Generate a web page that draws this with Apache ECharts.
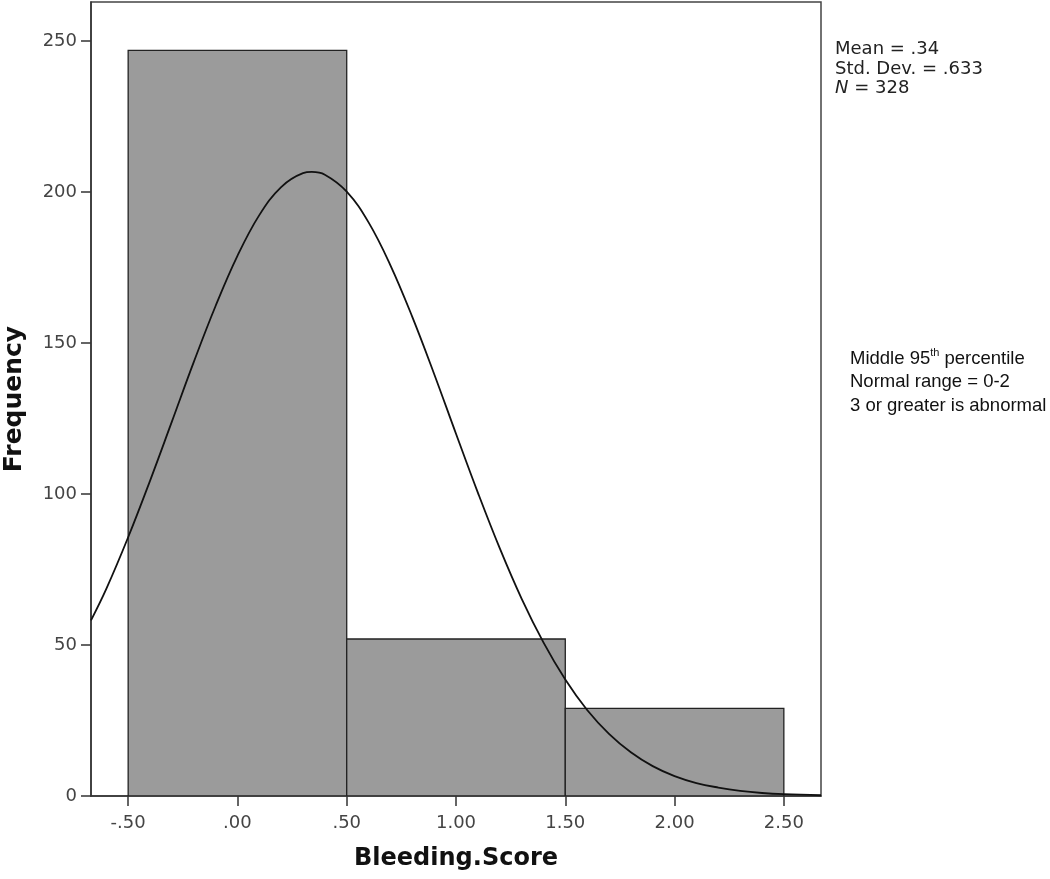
<!DOCTYPE html>
<html>
<head>
<meta charset="utf-8">
<script src="https://cdn.jsdelivr.net/npm/echarts@6/dist/echarts.min.js"></script>
<style>html,body{margin:0;padding:0;background:#fff}#c{width:1050px;height:879px}</style>
</head>
<body>
<div id="c"></div>
<script>
// Histogram bins: [start, end]
var binStarts = [-0.5, 0.5, 1.5];
var binEnds = [0.5, 1.5, 2.5];
var binCounts = [247, 52, 29];
// Normal curve points
var curveX = [-0.67, -0.6, -0.5, -0.4, -0.3, -0.2, -0.1, 0.0, 0.1, 0.2, 0.3, 0.34, 0.4, 0.5, 0.6, 0.7, 0.8, 0.9, 1.0, 1.1, 1.2, 1.3, 1.4, 1.5, 1.6, 1.7, 1.8, 1.9, 2.0, 2.1, 2.2, 2.3, 2.4, 2.5, 2.67];
var curveY = [58.2, 68.6, 85.7, 104.4, 124.0, 143.7, 162.3, 178.9, 192.4, 201.7, 206.3, 206.7, 205.8, 200.2, 190.0, 175.8, 158.7, 139.8, 120.0, 100.5, 82.1, 65.4, 50.9, 38.6, 28.5, 20.6, 14.5, 9.9, 6.6, 4.3, 2.8, 1.7, 1.0, 0.6, 0.25];
var xTicks = [-0.5, 0, 0.5, 1.0, 1.5, 2.0, 2.5];
var yTicks = [0, 50, 100, 150, 200, 250];
var statsLines = ['Mean = .34', 'Std. Dev. = .633', 'N = 328'];

var barData = binStarts.map(function (s, i) { return [s, binEnds[i], binCounts[i]]; });
var curveData = curveX.map(function (x, i) { return [x, curveY[i]]; });

function fmt(v) {
  var s = Math.abs(v).toFixed(2);
  if (s.charAt(0) === '0') s = s.substring(1);
  return (v < 0 ? '-' : '') + s;
}

var chart = echarts.init(document.getElementById('c'));
chart.setOption({
  animation: false,
  backgroundColor: '#fff',
  grid: { left: 91, top: 2, right: 229, bottom: 83, show: true, borderColor: '#444', borderWidth: 1.5, backgroundColor: 'transparent', outerBoundsMode: 'none', containLabel: false },
  xAxis: {
    type: 'value', min: -0.67, max: 2.67,
    name: 'Bleeding.Score', nameLocation: 'middle', nameGap: 51,
    nameTextStyle: { fontFamily: 'DejaVu Sans', fontWeight: 'bold', fontSize: 24, color: '#111' },
    axisLine: { show: true, onZero: false, lineStyle: { color: '#333', width: 1.5 } },
    axisTick: { show: true, inside: false, length: 10, customValues: xTicks, lineStyle: { color: '#333', width: 1.5 } },
    axisLabel: { customValues: xTicks, formatter: fmt, fontFamily: 'DejaVu Sans', fontSize: 18, color: '#444', margin: 18 },
    splitLine: { show: false }
  },
  yAxis: {
    type: 'value', min: 0, max: 263,
    name: 'Frequency', nameLocation: 'middle', nameGap: 64, nameRotate: 90,
    nameTextStyle: { fontFamily: 'DejaVu Sans', fontWeight: 'bold', fontSize: 25, color: '#111' },
    axisLine: { show: true, onZero: false, lineStyle: { color: '#333', width: 1.5 } },
    axisTick: { show: true, inside: false, length: 10, customValues: yTicks, lineStyle: { color: '#333', width: 1.5 } },
    axisLabel: { customValues: yTicks, fontFamily: 'DejaVu Sans', fontSize: 18, color: '#444', margin: 14 },
    splitLine: { show: false }
  },
  series: [
    {
      type: 'custom',
      data: barData,
      clip: true,
      renderItem: function (params, api) {
        var p0 = api.coord([api.value(0), 0]);
        var p1 = api.coord([api.value(1), api.value(2)]);
        return {
          type: 'rect',
          shape: { x: p0[0], y: p1[1], width: p1[0] - p0[0], height: p0[1] - p1[1] },
          style: { fill: '#9b9b9b', stroke: '#222', lineWidth: 1.3 }
        };
      }
    },
    {
      type: 'line', data: curveData, smooth: 0.4, showSymbol: false, clip: true,
      lineStyle: { color: '#111', width: 1.8 }, z: 5
    }
  ],
  graphic: [
    {
      type: 'text', left: 835, top: 40,
      style: {
        text: statsLines[0] + '\n' + statsLines[1] + '\n{i|N} = 328',
        rich: { i: { fontStyle: 'italic', fontFamily: 'DejaVu Sans', fontSize: 18, fill: '#222' } },
        fontFamily: 'DejaVu Sans', fontSize: 18, lineHeight: 19.5, fill: '#222'
      }
    },
    {
      type: 'text', left: 850, top: 347,
      style: {
        text: 'Middle 95{sup|th} percentile\nNormal range = 0-2\n3 or greater is abnormal',
        rich: { sup: { fontSize: 11, verticalAlign: 'top', fontFamily: 'Liberation Sans', padding: [0, 0, 9, 0], fill: '#111' } },
        fontFamily: 'Liberation Sans', fontSize: 18.5, lineHeight: 23.5, fill: '#111'
      }
    }
  ]
});
</script>
</body>
</html>
